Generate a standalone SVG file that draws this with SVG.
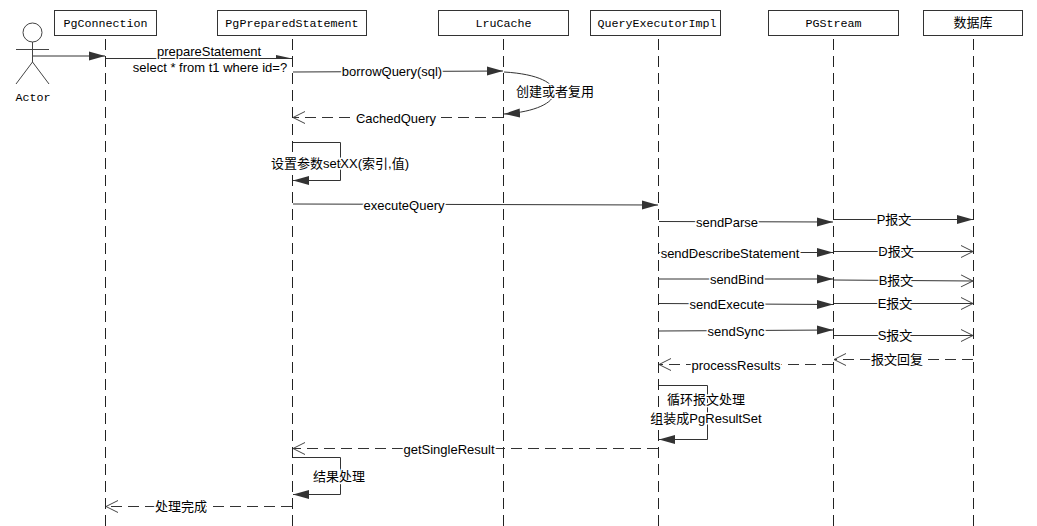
<svg xmlns="http://www.w3.org/2000/svg" width="1037" height="526" viewBox="0 0 1037 526">
<style>
text{font-family:"Liberation Sans","Noto Sans CJK SC",sans-serif;font-size:13px;fill:#000;text-anchor:middle}
.h{font-family:"Liberation Mono","Noto Sans CJK SC",monospace;font-size:11.7px}
.l{paint-order:stroke;stroke:#fff;stroke-width:3px;stroke-linejoin:round}
.b{fill:#fff;stroke:#333;stroke-width:1}
.ll{stroke:#222;stroke-width:1;stroke-dasharray:11 6;fill:none}
.m{stroke:#333;stroke-width:1;fill:none}
.f{marker-end:url(#fa)}
.o{marker-end:url(#oa)}
.d{stroke-dasharray:11 6;marker-end:url(#oa)}
</style>
<defs>
<marker id="fa" markerUnits="userSpaceOnUse" markerWidth="17" markerHeight="11" refX="16" refY="5.500" orient="auto"><path d="M0 1L16 5.500L0 10Z" fill="#333"/></marker>
<marker id="fh" markerUnits="userSpaceOnUse" markerWidth="17" markerHeight="11" refX="16" refY="5.500" orient="auto"><path d="M0 2L16 5.500L0 6Z" fill="#333"/></marker>
<marker id="oa" markerUnits="userSpaceOnUse" markerWidth="17" markerHeight="14" refX="16" refY="7" orient="auto"><path d="M4 1L16 7L4 13" fill="none" stroke="#444" stroke-width="1"/></marker>
</defs>
<g id="lifelines">
<path class="ll" d="M105.500 39V526"/><path class="ll" d="M292.500 39V526"/><path class="ll" d="M503.500 39V526"/><path class="ll" d="M658.500 39V526"/><path class="ll" d="M833.500 39V526"/><path class="ll" d="M973.500 39V526"/>
</g>
<g id="actor" fill="none" stroke="#444">
<circle cx="32.500" cy="32.500" r="9.500" fill="#fff"/>
<path d="M32.500 42V62M16 49.500H49M32.500 62L16 84M32.500 62L49 84"/>
<text class="h" x="33" y="101" stroke="none">Actor</text>
</g>
<g id="PgConnection"><rect class="b" x="54.500" y="10.500" width="102" height="25"/><text class="h" x="105.500" y="27">PgConnection</text></g>
<g id="PgPreparedStatement"><rect class="b" x="217.500" y="10.500" width="149" height="25"/><text class="h" x="292" y="27">PgPreparedStatement</text></g>
<g id="LruCache"><rect class="b" x="438.500" y="10.500" width="130" height="25"/><text class="h" x="503.500" y="27">LruCache</text></g>
<g id="QueryExecutorImpl"><rect class="b" x="590.500" y="10.500" width="130" height="25"/><text class="h" x="657" y="27">QueryExecutorImpl</text></g>
<g id="PGStream"><rect class="b" x="768.500" y="10.500" width="130" height="25"/><text class="h" x="833.500" y="27">PGStream</text></g>
<g id="db"><rect class="b" x="923.500" y="10.500" width="99" height="25"/><text class="h" x="973" y="27" style="font-size:13px">数据库</text></g>
<g id="connectors">
<path class="m f" d="M33 56H105"/>
<path class="m" style="marker-end:url(#fh)" d="M106 58.500H292"/>
<path class="m f" d="M293 72L503 71"/>
<path class="m f" d="M504 72C574 76 568 110 504 114"/>
<path class="m d" d="M503 117.500H293"/>
<path class="m f" d="M293 142.500H340.500V180.500H293"/>
<path class="m f" d="M293 204L658 205"/>
<path class="m f" d="M659 221.500L833 222"/>
<path class="m f" d="M834 219.500H973"/>
<path class="m f" d="M659 252.500H833"/>
<path class="m o" d="M834 251.500H973"/>
<path class="m f" d="M659 279L833 279"/>
<path class="m o" d="M834 280L973 281"/>
<path class="m f" d="M659 303.500L833 304.500"/>
<path class="m o" d="M834 303.500H973"/>
<path class="m f" d="M659 331L833 330"/>
<path class="m o" d="M834 335.500H973"/>
<path class="m d" d="M833 364.500H659"/>
<path class="m d" d="M973 359.500H834"/>
<path class="m f" d="M659 385.500H707.500V439.500H659"/>
<path class="m d" d="M658 448.500H293"/>
<path class="m f" d="M293 457.500H340.500V494.500H293"/>
<path class="m d" d="M292 506.500H106"/>
</g>
<g id="labels">
<text class="l" x="209" y="56">prepareStatement</text>
<text class="l" x="210" y="72">select * from t1 where id=?</text>
<text class="l" x="392" y="76">borrowQuery(sql)</text>
<text class="l" x="555" y="96">创建或者复用</text>
<text class="l" x="396" y="123">CachedQuery</text>
<text class="l" x="340" y="168">设置参数setXX(索引,值)</text>
<text class="l" x="404" y="210">executeQuery</text>
<text class="l" x="727" y="227">sendParse</text>
<text class="l" x="894" y="224">P报文</text>
<text class="l" x="730" y="258">sendDescribeStatement</text>
<text class="l" x="896" y="256">D报文</text>
<text class="l" x="737" y="284">sendBind</text>
<text class="l" x="896" y="285">B报文</text>
<text class="l" x="727" y="309">sendExecute</text>
<text class="l" x="895" y="308">E报文</text>
<text class="l" x="736" y="336">sendSync</text>
<text class="l" x="895" y="340">S报文</text>
<text class="l" x="736" y="370">processResults</text>
<text class="l" x="897" y="364">报文回复</text>
<text class="l" x="706" y="404">循环报文处理</text>
<text class="l" x="706" y="423">组装成PgResultSet</text>
<text class="l" x="449" y="454">getSingleResult</text>
<text class="l" x="339" y="481">结果处理</text>
<text class="l" x="181" y="511">处理完成</text>
</g>
</svg>
